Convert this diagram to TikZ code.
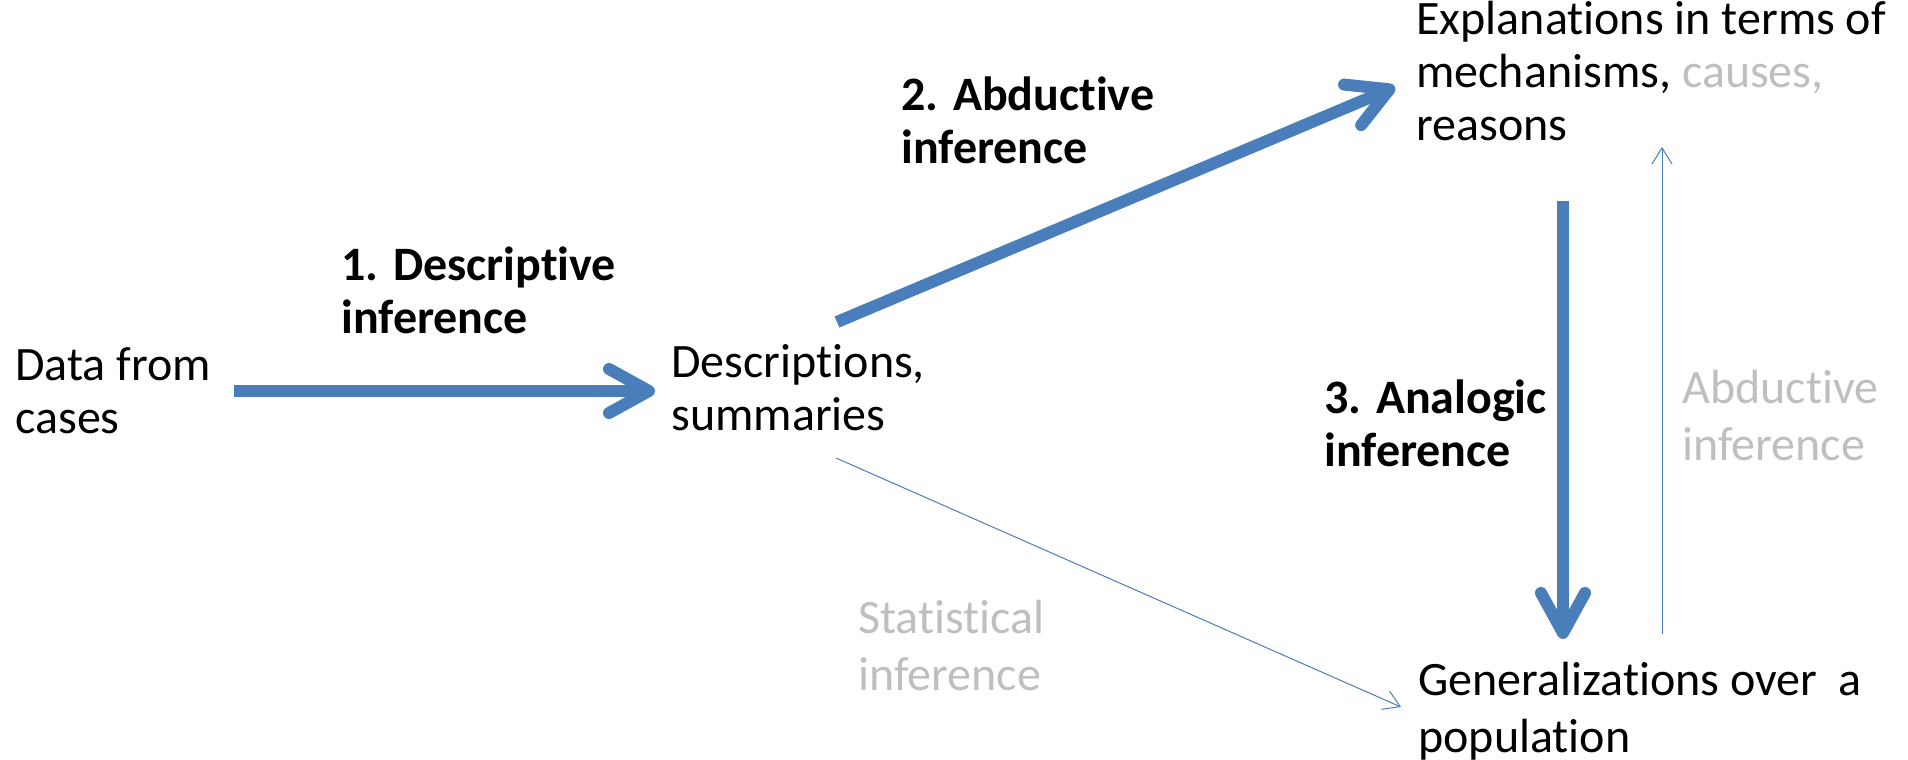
\documentclass[tikz,border=0pt]{standalone}
\usepackage{fontspec}
\setmainfont{Carlito}[Ligatures=NoCommon]
\usepackage{tikz}
\usetikzlibrary{arrows.meta}
\definecolor{arrowblue}{RGB}{74,126,187}
\definecolor{palegray}{RGB}{191,191,191}

\begin{document}
\begin{tikzpicture}[x=0.5pt, y=-0.5pt,
  txt/.style={anchor=base west, align=left, inner sep=0pt, font=\fontsize{24}{26.5}\selectfont},
  boldtxt/.style={txt, font=\fontsize{24}{26.5}\selectfont\bfseries},
  graytxt/.style={txt, text=palegray, font=\fontsize{24}{28.5}\selectfont},
  bigarrow/.style={arrowblue, line width=6pt, -{Straight Barb[length=20pt, width=22pt, round]}},
  thinarrow/.style={arrowblue, line width=0.5pt, -{Straight Barb[length=8pt, width=10pt]}}]
\useasboundingbox (0,0) rectangle (1908,760);
% узлы (базовая линия последней строки)
\node [txt] (data) at (15,433) {Data from\\cases};
\node [txt] (desc) at (671,430) {Descriptions,\\summaries};
\node [txt] (expl) at (1416,140) {Explanations in terms of\\mechanisms, \textcolor{palegray}{causes,}\\reasons};
\node [txt, font=\fontsize{24}{28.5}\selectfont] (gen) at (1418,752) {Generalizations over\ \ a\\population};
% подписи стрелок
\node [boldtxt] (descinf) at (341,333) {1. Descriptive\\inference};
\node [boldtxt] (abdinf) at (901,163) {2. Abductive\\inference};
\node [boldtxt] (anainf) at (1324,466) {3. Analogic\\inference};
\node [graytxt] (abdgray) at (1682,460) {Abductive\\inference};
\node [graytxt] (statinf) at (858,690) {Statistical\\inference};
% толстые стрелки
\draw [bigarrow] ([shift={(219,-42)}]data.base west) -- ([shift={(-16,-39)}]desc.base west);
\draw [bigarrow] ([shift={(166,-108)}]desc.base west) -- ([shift={(-21,-53)}]expl.base west);
\draw [bigarrow] ([shift={(147,61)}]expl.base west) -- ([shift={(145,-113)}]gen.base west);
% тонкие стрелки
\draw [thinarrow] ([shift={(244,-118)}]gen.base west) -- ([shift={(246,7)}]expl.base west);
\draw [thinarrow] ([shift={(165,28)}]desc.base west) -- ([shift={(-17,-45)}]gen.base west);
\end{tikzpicture}
\end{document}
